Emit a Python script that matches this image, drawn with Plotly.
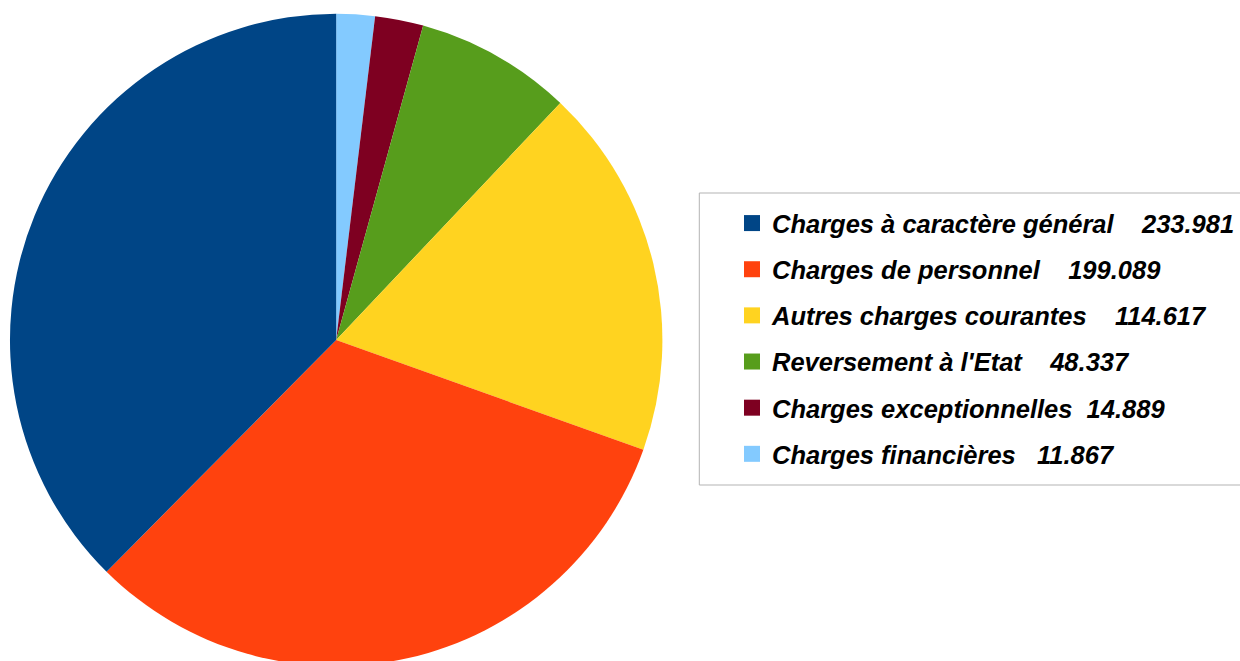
import plotly.graph_objects as go

categories = ["Charges à caractère général", "Charges de personnel", "Autres charges courantes",
              "Reversement à l'Etat", "Charges exceptionnelles", "Charges financières"]
values = [233981, 199089, 114617, 48337, 14889, 11867]
value_labels = ["233.981", "199.089", "114.617", "48.337", "14.889", "11.867"]
label_gaps = [4, 4, 4, 4, 2, 3]
colors = ["#004586", "#ff420e", "#ffd320", "#579d1c", "#7e0021", "#83caff"]

W, H = 1240, 670
cx, cy, r = 337, 340, 327

fig = go.Figure()
# Slices drawn clockwise from 12 o'clock in reverse order, so the first category
# ends up on the left side going counterclockwise (as in the reference).
fig.add_trace(go.Pie(
    labels=categories[::-1], values=values[::-1], sort=False, direction="clockwise",
    marker=dict(colors=colors[::-1], line=dict(width=0)), textinfo="none",
    hoverinfo="label+value+percent", showlegend=False,
    domain=dict(x=[(cx - r) / W, (cx + r) / W], y=[(H - cy - r) / H, (H - cy + r) / H]),
))

for name, vl, gap, col in zip(categories, value_labels, label_gaps, colors):
    fig.add_trace(go.Scatter(
        x=[None], y=[None], mode="markers",
        marker=dict(symbol="square", size=16, color=col),
        name=name + "\u00a0" * gap + vl, legendgroup=name, showlegend=True,
    ))

fig.update_layout(
    width=W, height=H, margin=dict(l=0, r=0, t=0, b=0),
    paper_bgcolor="white", plot_bgcolor="white",
    xaxis=dict(visible=False), yaxis=dict(visible=False),
    font=dict(family="Liberation Sans", color="black"),
    legend=dict(x=734 / W, y=1 - 200 / H, xanchor="left", yanchor="top",
                font=dict(size=25.5, family="Liberation Sans", style="italic", weight="bold"),
                tracegroupgap=10, itemwidth=30, bgcolor="rgba(0,0,0,0)"),
    shapes=[dict(type="rect", xref="paper", yref="paper", x0=701 / W, x1=1250 / W,
                 y0=1 - 485 / H, y1=1 - 193 / H, line=dict(color="#b3b3b3", width=1))],
)
fig.write_html("out.html", config={"displayModeBar": False},
               post_script="document.body.style.margin='0';")
